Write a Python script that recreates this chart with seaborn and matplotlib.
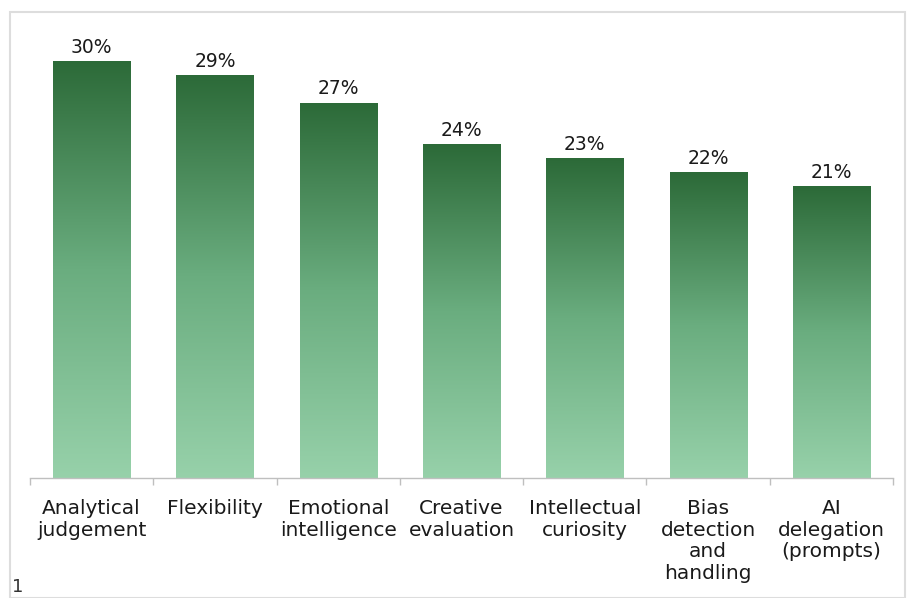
import numpy as np
import pandas as pd
import matplotlib
matplotlib.use("Agg")
import matplotlib.pyplot as plt
import seaborn as sns
from matplotlib.colors import LinearSegmentedColormap
from matplotlib.patches import Rectangle

categories = ["Analytical\njudgement", "Flexibility", "Emotional\nintelligence",
              "Creative\nevaluation", "Intellectual\ncuriosity",
              "Bias\ndetection\nand\nhandling", "AI\ndelegation\n(prompts)"]
values = [30, 29, 27, 24, 23, 22, 21]
value_labels = ["30%", "29%", "27%", "24%", "23%", "22%", "21%"]

sns.set_theme(style="white")
plt.rcParams['font.family'] = ['DejaVu Sans']

fig = plt.figure(figsize=(9.14, 5.98), dpi=100)
ax = fig.add_axes([30/914, 1-478/598, (893-30)/914, (478-40)/598])

df = pd.DataFrame({"cat": categories, "val": values})
sns.barplot(data=df, x="cat", y="val", ax=ax, color="#2e6b3a", width=0.625, saturation=1)

cmap = LinearSegmentedColormap.from_list("g", ["#97d1aa", "#6aad7f", "#2c6a38"])
grad = np.linspace(0, 1, 256).reshape(-1, 1)
for p, lab in zip(ax.patches, value_labels):
    x0, w, h = p.get_x(), p.get_width(), p.get_height()
    im = ax.imshow(grad, cmap=cmap, origin="lower", aspect="auto",
                   extent=[x0, x0 + w, 0, h], zorder=2)
    im.set_clip_path(p)
    p.set_alpha(0)
    ax.text(x0 + w/2, h + 0.3, lab, ha="center", va="bottom", fontsize=13.5, color="#1a1a1a")

ax.set_xlim(-0.5, len(categories) - 0.5)
ax.set_ylim(0, 31.5)
ax.set_xlabel("")
ax.set_ylabel("")
ax.set_yticks([])
for s in ["top", "right", "left"]:
    ax.spines[s].set_visible(False)
ax.spines["bottom"].set_color("#bfbfbf")
ax.spines["bottom"].set_linewidth(1)
ax.set_xticks(range(len(categories)))
ax.set_xticklabels(categories, fontsize=14.5, color="#1a1a1a", linespacing=1.18)
ax.tick_params(axis="x", which="major", length=0, pad=15)
ax.set_xticks(np.arange(-0.5, len(categories)), minor=True)
ax.tick_params(axis="x", which="minor", length=5, color="#bfbfbf", width=1, bottom=True)

fig.patches.append(Rectangle((10/914, 0), (905-10)/914, 1-12/598, transform=fig.transFigure,
                             fill=False, edgecolor="#dddddd", linewidth=1.5))
fig.text(12/914, 1-587/598, "1", fontsize=13, color="#333333", va="center", ha="left")

fig.savefig("out.png", dpi=100)
